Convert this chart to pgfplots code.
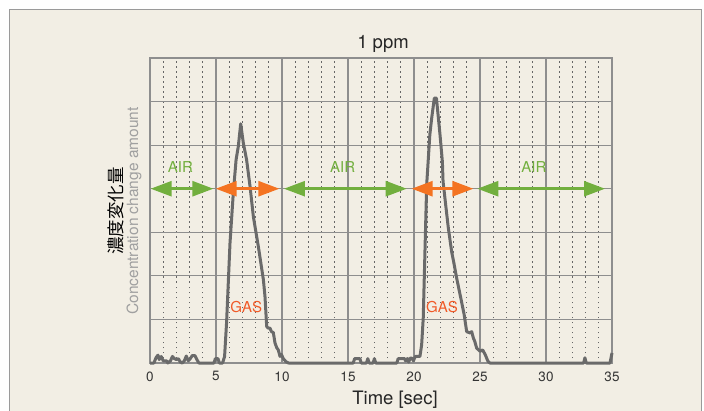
\documentclass[border=0pt]{standalone}
\usepackage{pgfplots}
\pgfplotsset{compat=1.18}
\usepackage{fontspec}
\setmainfont{TeX Gyre Heros}
\newfontfamily\jp{Noto Sans CJK JP}
\usetikzlibrary{arrows.meta}
\definecolor{bg}{HTML}{F2EEE4}
\definecolor{framegray}{HTML}{9A9A9A}
\definecolor{gridgray}{HTML}{8E8E8E}
\definecolor{dotgray}{HTML}{666666}
\definecolor{curve}{HTML}{6A6A6A}
\definecolor{airgreen}{HTML}{72AF3E}
\definecolor{gasorange}{HTML}{F47321}
\definecolor{gastext}{HTML}{F05A28}
\definecolor{labgray}{HTML}{A0A0A0}

\begin{document}
\begin{tikzpicture}[x=1pt,y=1pt]
\path[use as bounding box] (0,0) rectangle (704,410);
\fill[white] (0,0) rectangle (704,410);
\filldraw[fill=bg, draw=framegray, line width=1pt] (9,-20) rectangle (701,400.5);
\begin{axis}[
  at={(150pt,47pt)}, anchor=south west,
  scale only axis, width=462pt, height=305pt,
  xmin=0, xmax=35, ymin=0, ymax=7,
  xtick={0,5,...,35}, minor x tick num=4,
  ytick={0,1,...,7}, yticklabels={},
  major tick length=0pt, minor tick length=0pt,
  xmajorgrids, xminorgrids, ymajorgrids,
  major grid style={gridgray, line width=1.1pt},
  minor grid style={dotgray, line width=0.9pt, dash pattern=on 1.5pt off 3.5pt},
  axis line style={gridgray, line width=1.2pt},
  xticklabel style={font=\fontsize{13.5}{14}\selectfont, text=black!80, yshift=-5pt},
  /pgf/number format/assume math mode=true,
  clip=false,
]
\addplot[curve, line width=3pt, line join=round] coordinates {
(0,0) (0.3,0) (0.45,0.12) (0.6,0.18) (0.7,0.08) (0.85,0.15) (1.0,0.05) (1.25,0.05)
(1.35,0) (1.55,0.05) (1.7,0.15) (1.85,0.1) (2.0,0.08) (2.15,0.1) (2.3,0.02) (2.45,0)
(2.6,0.05) (2.75,0.16) (2.9,0.05) (3.05,0.1) (3.2,0.17) (3.4,0.17) (3.55,0.08) (3.7,0)
(4.85,0) (4.95,0.1) (5.15,0.1) (5.25,0) (5.5,0) (5.65,0.15) (5.8,0.92) (6.06,2.75)
(6.31,3.9) (6.52,4.66) (6.69,4.97) (6.87,5.49) (7.07,5.05) (7.32,4.66) (7.58,4.05)
(7.83,3.36) (8.21,2.67) (8.59,1.91) (8.71,1.53) (8.84,0.84) (8.95,0.8) (9.09,0.8)
(9.2,0.72) (9.34,0.7) (9.47,0.46) (9.6,0.35) (9.72,0.3) (9.85,0.15) (9.95,0.2)
(10.1,0.1) (10.3,0.03) (10.5,0) (15.4,0) (15.5,0.1) (15.9,0.1) (16.0,0) (16.4,0)
(16.5,0.1) (16.6,0) (16.9,0) (17.0,0.1) (17.1,0) (18.7,0) (18.8,0.1) (19.3,0.1)
(19.35,0.05) (19.5,0.1) (19.6,0.02) (19.7,0.11) (19.85,0.11) (19.95,0.05) (20.1,0.15)
(20.45,0.15) (20.58,0.42) (20.7,1.03) (20.83,2.56) (20.96,4.09) (21.2,5.24) (21.34,5.62)
(21.54,6.08) (21.7,6.08) (21.97,5.24) (22.15,4.62) (22.2,4.17) (22.4,3.63) (22.6,3.1)
(22.85,2.56) (23.05,2.25) (23.23,1.95) (23.6,1.41) (23.8,1.11) (23.99,0.72) (24.24,0.69)
(24.37,0.72) (24.5,0.57) (24.6,0.5) (24.75,0.34) (24.9,0.3) (25.0,0.27) (25.2,0.3)
(25.4,0.19) (25.6,0.04) (25.75,0) (32.85,0) (32.95,0.12) (33.05,0) (34.85,0) (35,0.23)
};
\addplot[airgreen, line width=2.6pt, {Triangle[length=21pt,width=15pt]}-{Triangle[length=21pt,width=15pt]}] coordinates {(0.05,4) (4.8,4)};
\addplot[gasorange, line width=2.6pt, {Triangle[length=21pt,width=15pt]}-{Triangle[length=21pt,width=15pt]}] coordinates {(4.98,4) (9.8,4)};
\addplot[airgreen, line width=2.6pt, {Triangle[length=21pt,width=15pt]}-{Triangle[length=21pt,width=15pt]}] coordinates {(10.15,4) (19.45,4)};
\addplot[gasorange, line width=2.6pt, {Triangle[length=21pt,width=15pt]}-{Triangle[length=21pt,width=15pt]}] coordinates {(19.82,4) (24.5,4)};
\addplot[airgreen, line width=2.6pt, {Triangle[length=21pt,width=15pt]}-{Triangle[length=21pt,width=15pt]}] coordinates {(24.8,4) (34.47,4)};
\node[text=airgreen, font=\fontsize{15}{15}\selectfont] at (axis cs:2.3,4.49) {AIR};
\node[text=airgreen, font=\fontsize{15}{15}\selectfont] at (axis cs:14.6,4.49) {AIR};
\node[text=airgreen, font=\fontsize{15}{15}\selectfont] at (axis cs:29.08,4.49) {AIR};
\node[text=gastext, font=\fontsize{15}{15}\selectfont] at (axis cs:7.29,1.28) {GAS};
\node[text=gastext, font=\fontsize{15}{15}\selectfont] at (axis cs:22.12,1.28) {GAS};
\end{axis}
\node[font=\fontsize{18.5}{18.5}\selectfont, text=black!85] at (383,366) {1 ppm};
\node[font=\fontsize{18.5}{18.5}\selectfont, text=black!85, anchor=base] at (395,6) {Time [sec]};
\node[font=\jp\fontsize{17.5}{17.5}\selectfont, rotate=90] at (116,199) {濃度変化量};
\node[font=\fontsize{15.5}{15.5}\selectfont, text=labgray, rotate=90] at (134,199) {Concentration change amount};
\end{tikzpicture}
\end{document}
